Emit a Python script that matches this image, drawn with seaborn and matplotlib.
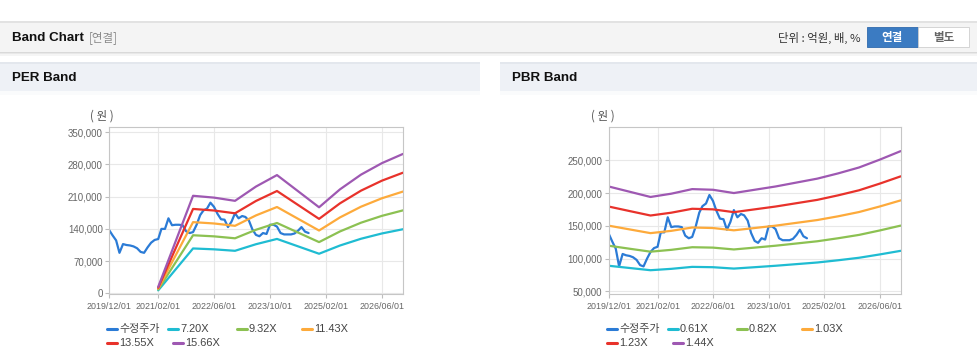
import numpy as np
import pandas as pd
import matplotlib
matplotlib.use("Agg")
import matplotlib.pyplot as plt
import seaborn as sns
from matplotlib.patches import Rectangle
from matplotlib.lines import Line2D

# ---------------- data ----------------
price_start = "2019-12-01"
price_values = [138000, 126000, 115000, 88000, 107000, 105000, 104000, 102000, 98000, 90000,
                88000, 100000, 110000, 116000, 118000, 140000, 140000, 163000, 148000, 149000,
                149000, 148000, 135000, 131000, 133000, 149000, 170000, 180000, 184000, 197000,
                188000, 173000, 161000, 160000, 144000, 156000, 174000, 163000, 168000, 166000,
                158000, 139000, 127000, 124000, 131000, 129000, 149000, 149000, 145000, 131000,
                128000, 128000, 128000, 130000, 136000, 144000, 134000, 131000]

per_dates = ["2021-02-01", "2021-12-01", "2022-06-01", "2022-12-01", "2023-06-01", "2023-12-01",
             "2024-06-01", "2024-12-01", "2025-06-01", "2025-12-01", "2026-06-01", "2026-12-01"]
per_720 = [6400, 97500, 95600, 92400, 106700, 118200, 102100, 86000, 103900, 118600, 130100, 139300]
per_932 = [8300, 126200, 123800, 119600, 138100, 152900, 132100, 111300, 134500, 153500, 168400, 180300]
per_1143 = [10200, 154700, 151800, 146700, 169300, 187600, 162000, 136500, 165000, 188300, 206600, 221200]
per_1355 = [12100, 183400, 180000, 173900, 200700, 222400, 192100, 161800, 195600, 223200, 244900, 262200]
per_1566 = [14000, 212000, 208000, 201000, 232000, 257000, 222000, 187000, 226000, 258000, 283000, 303000]
per_names = ["수정주가", "7.20X", "9.32X", "11.43X", "13.55X", "15.66X"]

pbr_dates = ["2019-12-01", "2020-06-01", "2020-12-01", "2021-06-01", "2021-12-01", "2022-06-01",
             "2022-12-01", "2023-06-01", "2023-12-01", "2024-06-01", "2024-12-01", "2025-06-01",
             "2025-12-01", "2026-06-01", "2026-12-01"]
pbr_061 = [89000, 85600, 82200, 84300, 87300, 86800, 84700, 86800, 89000, 91500, 94000, 97400, 101200, 106300, 111800]
pbr_082 = [119600, 115000, 110500, 113300, 117300, 116700, 113900, 116700, 119600, 123000, 126400, 131000, 136100, 142900, 150300]
pbr_103 = [150200, 144500, 138800, 142300, 147400, 146600, 143100, 146600, 150200, 154500, 158800, 164500, 171000, 179500, 188800]
pbr_123 = [179400, 172500, 165700, 170000, 176000, 175100, 170800, 175100, 179400, 184500, 189600, 196500, 204200, 214400, 225500]
pbr_144 = [210000, 202000, 194000, 199000, 206000, 205000, 200000, 205000, 210000, 216000, 222000, 230000, 239000, 251000, 264000]
pbr_names = ["수정주가", "0.61X", "0.82X", "1.03X", "1.23X", "1.44X"]

xtick_labels = ["2019/12/01", "2021/02/01", "2022/06/01", "2023/10/01", "2025/02/01", "2026/06/01"]
per_yticks = [0, 70000, 140000, 210000, 280000, 350000]
pbr_yticks = [50000, 100000, 150000, 200000, 250000]

colors = ["#2b7bd6", "#1fbcd2", "#8cc152", "#fdaa3b", "#e8322b", "#9e58b2"]

# ---------------- figure ----------------
sns.set_theme(style="white")
plt.rcParams["font.family"] = ["Liberation Sans", "Noto Sans CJK KR", "DejaVu Sans"]

W, H = 978, 362
fig = plt.figure(figsize=(W / 100, H / 100), dpi=100)
fig.patch.set_facecolor("white")


def fx(x):
    return x / W


def fy(y):
    return 1 - y / H


def rect(x0, y0, x1, y1, color, edge="none", lw=0, z=0):
    fig.add_artist(Rectangle((fx(x0), fy(y1)), fx(x1) - fx(x0), fy(y0) - fy(y1),
                             transform=fig.transFigure, facecolor=color, edgecolor=edge,
                             linewidth=lw, zorder=z))


# top header bar
rect(0, 21, W, 23, "#e2e2e2")
rect(0, 23, W, 52, "#f4f4f4")
rect(0, 52, W, 53, "#d9d9d9")
rect(0, 53, W, 54, "#e8e8e8")
rect(0, 54, W, 56, "#f5f5f5")

KR = ["Noto Sans CJK KR", "DejaVu Sans"]
BOLD = ["Liberation Sans", "Noto Sans CJK KR"]
fig.text(fx(12), fy(38), "Band Chart", fontsize=9.6, fontweight="bold",
         family=BOLD, va="center", color="#111111")
fig.text(fx(89), fy(38), "[연결]", fontsize=8.3, family=KR, va="center", color="#8a8a8a")
fig.text(fx(861), fy(38), "단위 : 억원, 배, %", ha="right", va="center", fontsize=8.2,
         family=KR, color="#333333")
rect(867, 27.5, 918, 46.5, "#3b7bc2", edge="#2f6aad", lw=0.6, z=1)
rect(918, 27.5, 969, 46.5, "#ffffff", edge="#cfcfcf", lw=0.6, z=1)
fig.text(fx(892.5), fy(37), "연결", ha="center", va="center", fontsize=8.3,
         fontweight="bold", family=KR, color="white", zorder=2)
fig.text(fx(943.5), fy(37), "별도", ha="center", va="center", fontsize=8.3,
         fontweight="bold", family=KR, color="#666666", zorder=2)

# panel headers
for x0, x1, title in [(0, 480, "PER Band"), (500, W, "PBR Band")]:
    rect(x0, 62, x1, 64, "#e3e7ed")
    rect(x0, 64, x1, 91, "#eef1f6")
    rect(x0, 91, x1, 95, "#fafbfc")
    fig.text(fx(x0 + 12), fy(78), title, fontsize=9.6, fontweight="bold",
             family=BOLD, va="center", color="#111111")


def make_df(names, date_lists, value_lists):
    frames = []
    for n, d, v in zip(names, date_lists, value_lists):
        frames.append(pd.DataFrame({"date": pd.to_datetime(d), "value": v, "series": n}))
    return pd.concat(frames, ignore_index=True)


price_dates = pd.date_range(price_start, periods=len(price_values), freq="MS")

per_df = make_df(per_names, [price_dates] + [per_dates] * 5,
                 [price_values, per_720, per_932, per_1143, per_1355, per_1566])
pbr_df = make_df(pbr_names, [price_dates] + [pbr_dates] * 5,
                 [price_values, pbr_061, pbr_082, pbr_103, pbr_123, pbr_144])

ax1 = fig.add_axes([fx(109), fy(294), fx(403) - fx(109), fy(127) - fy(294)])
ax2 = fig.add_axes([fx(608.7), fy(294), fx(900.7) - fx(608.7), fy(127) - fy(294)])

for ax, df, names, ylim, yticks in [
    (ax1, per_df, per_names, (-1500, 361500), per_yticks),
    (ax2, pbr_df, pbr_names, (45900, 300800), pbr_yticks),
]:
    sns.lineplot(data=df, x="date", y="value", hue="series", hue_order=names,
                 palette=dict(zip(names, colors)), estimator=None, sort=False,
                 linewidth=1.6, legend=False, ax=ax)
    ax.set_xlim(pd.Timestamp("2019-12-01"), pd.Timestamp("2026-12-01"))
    ax.set_ylim(*ylim)
    ax.set_xticks(pd.to_datetime(xtick_labels, format="%Y/%m/%d"))
    ax.set_xticklabels(xtick_labels)
    ax.set_yticks(yticks)
    ax.set_yticklabels([f"{v:,}" for v in yticks])
    ax.set_xlabel("")
    ax.set_ylabel("")
    ax.grid(True, color="#e8e8e8", linewidth=0.8)
    ax.set_axisbelow(True)
    for s in ax.spines.values():
        s.set_color("#c6c6c6")
        s.set_linewidth(0.8)
    ax.tick_params(axis="both", direction="out", length=3, width=0.8, color="#bdbdbd",
                   labelcolor="#666666")
    ax.tick_params(axis="y", labelsize=7, pad=1.5, left=True)
    ax.tick_params(axis="x", labelsize=6.4, pad=3, bottom=True)
    ax.set_facecolor("white")

# unit labels
fig.text(fx(102), fy(116), "( 원 )", ha="center", va="center", fontsize=8.3, family=KR, color="#555555")
fig.text(fx(603), fy(116), "( 원 )", ha="center", va="center", fontsize=8.3, family=KR, color="#555555")

# legends
leg_pos = [(107, 329), (168, 329), (237, 329), (302, 329), (107, 343), (173, 343)]
for off, names in [(0, per_names), (500, pbr_names)]:
    for (x, y), n, c in zip(leg_pos, names, colors):
        x = x + off
        fig.add_artist(Line2D([fx(x), fx(x + 10)], [fy(y), fy(y)], color=c, linewidth=2.2,
                              transform=fig.transFigure))
        fig.text(fx(x + 12), fy(y), n, va="center", ha="left", fontsize=7.9, color="#444444")

fig.savefig("out.png", dpi=100, facecolor="white")
